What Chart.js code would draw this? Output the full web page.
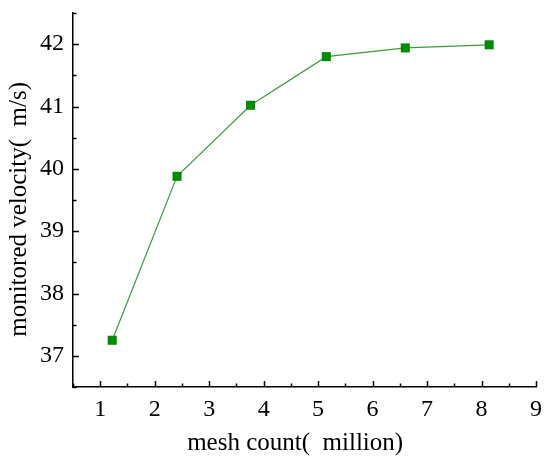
<!DOCTYPE html>
<html>
<head>
<meta charset="utf-8">
<script src="https://cdn.jsdelivr.net/npm/chart.js@4"></script>
<style>
  html, body { margin: 0; padding: 0; background: #fff; }
  #wrap { width: 550px; height: 462px; }
</style>
</head>
<body>
<div id="wrap"><canvas id="meshChart" width="550" height="462"></canvas></div>
<script>
const meshCount = [1.22, 2.41, 3.76, 5.15, 6.60, 8.14];
const velocity = [37.25, 39.88, 41.02, 41.80, 41.94, 41.99];
const xTickValues = [1, 2, 3, 4, 5, 6, 7, 8, 9];
const yTickValues = [37, 38, 39, 40, 41, 42];

const FONT = "'Liberation Serif', serif";

// inward major + minor ticks, drawn from the scales
const innerTicks = {
    id: "innerTicks",
    afterDraw(chart) {
        const ctx = chart.ctx;
        const xs = chart.scales.x;
        const ys = chart.scales.y;
        const area = chart.chartArea;
        ctx.save();
        ctx.strokeStyle = "#000";
        ctx.lineWidth = 1.5;
        ctx.beginPath();
        for (let v = xs.min; v <= xs.max + 1e-9; v += 0.5) {
            const px = Math.round(xs.getPixelForValue(v)) + 0.5;
            const len = Number.isInteger(v) ? 6 : 3.5;
            ctx.moveTo(px, area.bottom);
            ctx.lineTo(px, area.bottom - len);
        }
        for (let v = ys.min; v <= ys.max + 1e-9; v += 0.5) {
            const py = Math.round(ys.getPixelForValue(v)) + 0.5;
            const len = Number.isInteger(v) ? 6 : 3.5;
            ctx.moveTo(area.left, py);
            ctx.lineTo(area.left + len, py);
        }
        ctx.stroke();
        ctx.restore();
    }
};

function drawChart() {
    const chartEl = document.getElementById("meshChart").getContext("2d");

    new Chart(chartEl, {
        type: "scatter",
        data: {
            datasets: [{
                label: "monitored velocity",
                data: meshCount.map((x, i) => ({ x: x, y: velocity[i] })),
                showLine: true,
                borderColor: "#3c9c3c",
                borderWidth: 1.2,
                pointStyle: "rect",
                pointRadius: 6.4,
                pointBackgroundColor: "#008c00",
                pointBorderColor: "#008c00",
                pointBorderWidth: 0,
                tension: 0,
            }],
        },
        options: {
            responsive: false,
            animation: false,
            layout: { padding: { left: 0, right: 14, top: 13, bottom: 0 } },
            plugins: {
                legend: { display: false },
                tooltip: { enabled: false },
            },
            scales: {
                x: {
                    type: "linear",
                    min: 0.5,
                    max: 9,
                    afterBuildTicks: (scale) => {
                        scale.ticks = xTickValues.map(v => ({ value: v }));
                    },
                    afterFit: (scale) => {
                        scale.height = 75;
                        scale.paddingLeft = 0;
                        scale.paddingRight = 0;
                    },
                    grid: { display: false, drawTicks: false },
                    border: { display: true, color: "#000", width: 1.5 },
                    ticks: {
                        color: "#000",
                        padding: 8,
                        font: { family: FONT, size: 24 },
                    },
                    title: {
                        display: true,
                        text: "mesh count(  million)   ",
                        color: "#000",
                        padding: { top: 2 },
                        font: { family: FONT, size: 25 },
                    },
                },
                y: {
                    type: "linear",
                    min: 36.5,
                    max: 42.5,
                    afterBuildTicks: (scale) => {
                        scale.ticks = yTickValues.map(v => ({ value: v }));
                    },
                    afterFit: (scale) => {
                        scale.width = 73;
                        scale.paddingTop = 0;
                        scale.paddingBottom = 0;
                    },
                    grid: { display: false, drawTicks: false },
                    border: { display: true, color: "#000", width: 1.5 },
                    ticks: {
                        color: "#000",
                        padding: 9,
                        font: { family: FONT, size: 24 },
                    },
                    title: {
                        display: true,
                        text: "monitored velocity(  m/s)   ",
                        color: "#000",
                        padding: { bottom: 2 },
                        font: { family: FONT, size: 25 },
                    },
                },
            },
        },
        plugins: [innerTicks],
    });
}

document.fonts.load("24px 'Liberation Serif'").then(drawChart, drawChart);
</script>
</body>
</html>
